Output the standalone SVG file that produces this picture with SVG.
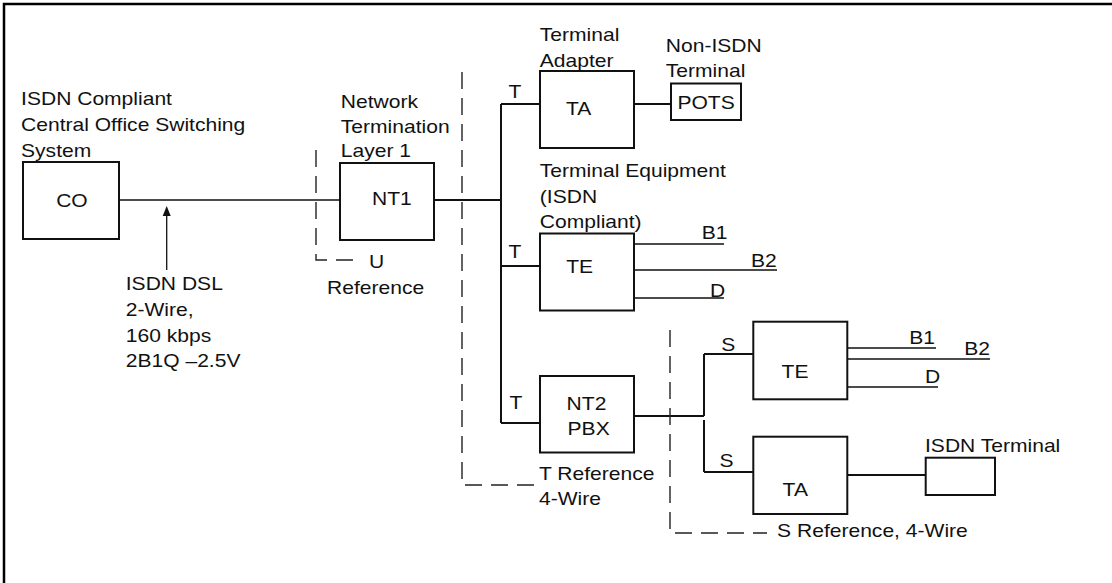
<svg xmlns="http://www.w3.org/2000/svg" width="1112" height="583" viewBox="0 0 1112 583">
<style>
.bg{fill:#fff}
.frame{fill:none;stroke:#000;stroke-width:2.5}
.box{fill:#fff;stroke:#111;stroke-width:2}
.w{fill:none;stroke:#111;stroke-width:2}
.thin{fill:none;stroke:#111;stroke-width:1.3}
.ref{fill:none;stroke:#222;stroke-width:1.4;stroke-dasharray:17 9}
.t{font-family:"Liberation Sans",Arial,Helvetica,sans-serif;font-size:18px;fill:#111;transform:scaleX(1.17)}
</style>
<rect class="bg" x="0" y="0" width="1112" height="583"/>
<path class="frame" d="M4,583 V4 H1112"/>

<g id="connectors">
  <path class="w" d="M119,200 H340" style="stroke-width:1.5"/>
  <path class="thin" d="M166.7,270 V214"/>
  <polygon points="166.7,206 162.7,216 170.7,216" fill="#111"/>
  <path class="w" d="M434,200 H501 M501,104 V423 M501,104 H540 M501,266 H540 M501,423 H540"/>
  <path class="w" d="M634,104 H671"/>
  <path class="thin" d="M634,244 H724 M634,270 H777 M634,298 H724"/>
  <path class="w" d="M634,416 H704 M704,354 V416 M704,420 V472 M704,354 H753 M704,472 H753"/>
  <path class="thin" d="M847,348 H936 M847,359 H990 M847,387 H938"/>
  <path class="w" d="M847,475 H926"/>
</g>

<g id="references">
  <path class="ref" d="M316,150 V260 H358"/>
  <path class="ref" d="M462,72 V485 H540"/>
  <path class="ref" d="M670,330 V533 H767"/>
  <text class="t" x="315.4" y="268">U</text>
  <text class="t" x="279.5" y="294">Reference</text>
  <text class="t" x="460.7" y="480">T Reference</text>
  <text class="t" x="460.7" y="505">4-Wire</text>
  <text class="t" x="664.2" y="536.7">S Reference, 4-Wire</text>
</g>

<g id="dsl-label">
  <text class="t" x="107.5" y="290.5">ISDN DSL</text>
  <text class="t" x="107.5" y="316">2-Wire,</text>
  <text class="t" x="107.5" y="341.7">160 kbps</text>
  <text class="t" x="107.5" y="366.7">2B1Q –2.5V</text>
</g>

<g id="co">
  <text class="t" x="18" y="105">ISDN Compliant</text>
  <text class="t" x="18" y="131">Central Office Switching</text>
  <text class="t" x="18" y="157">System</text>
  <rect class="box" x="23" y="162" width="96" height="77"/>
  <text class="t" x="48" y="207">CO</text>
</g>

<g id="nt1">
  <text class="t" x="291.3" y="108.3">Network</text>
  <text class="t" x="291.3" y="133.3">Termination</text>
  <text class="t" x="291.3" y="157.5">Layer 1</text>
  <rect class="box" x="340" y="163" width="94" height="77"/>
  <text class="t" x="318" y="205">NT1</text>
</g>

<g id="t-labels">
  <text class="t" x="434.6" y="98.3">T</text>
  <text class="t" x="434.6" y="258.3">T</text>
  <text class="t" x="435.4" y="409.3">T</text>
  <text class="t" x="616.4" y="351">S</text>
  <text class="t" x="614.9" y="467.3">S</text>
</g>

<g id="ta1">
  <text class="t" x="461.4" y="40.7">Terminal</text>
  <text class="t" x="461.4" y="66.7">Adapter</text>
  <rect class="box" x="540" y="71" width="94" height="77"/>
  <text class="t" x="483.8" y="115">TA</text>
</g>

<g id="pots">
  <text class="t" x="569.1" y="51.7">Non-ISDN</text>
  <text class="t" x="569.1" y="76.7">Terminal</text>
  <rect class="box" x="671" y="83.5" width="70" height="36.5"/>
  <text class="t" x="579" y="109">POTS</text>
</g>

<g id="te1">
  <text class="t" x="461.4" y="176.7">Terminal Equipment</text>
  <text class="t" x="461.4" y="203.3">(ISDN</text>
  <text class="t" x="461.4" y="228.3">Compliant)</text>
  <rect class="box" x="540" y="233.5" width="94" height="77"/>
  <text class="t" x="484" y="273.3">TE</text>
  <text class="t" x="599.7" y="239.3">B1</text>
  <text class="t" x="641.9" y="266.7">B2</text>
  <text class="t" x="606.8" y="297">D</text>
</g>

<g id="nt2">
  <rect class="box" x="540" y="376" width="94" height="76.5"/>
  <text class="t" x="484.3" y="410">NT2</text>
  <text class="t" x="485.1" y="435">PBX</text>
</g>

<g id="te2">
  <rect class="box" x="753.3" y="321.7" width="94" height="77.6"/>
  <text class="t" x="668" y="378.3">TE</text>
  <text class="t" x="777.2" y="344.3">B1</text>
  <text class="t" x="824.2" y="355">B2</text>
  <text class="t" x="790.6" y="382.7">D</text>
</g>

<g id="ta2">
  <rect class="box" x="753.3" y="436.7" width="94" height="77.3"/>
  <text class="t" x="668.9" y="496">TA</text>
</g>

<g id="isdn-terminal">
  <text class="t" x="790.6" y="451.7">ISDN Terminal</text>
  <rect class="box" x="925.7" y="457.7" width="69.3" height="37.3"/>
</g>
</svg>
